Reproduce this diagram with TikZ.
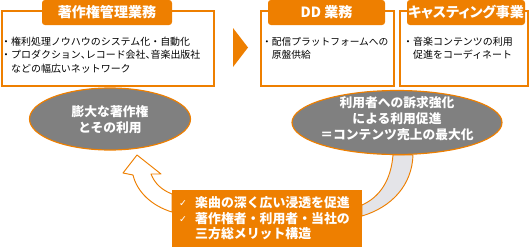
\documentclass[tikz,border=0pt]{standalone}
\usepackage{fontspec}
\setmainfont{Noto Sans CJK JP}
\newfontfamily\jpt{Noto Sans CJK JP}[RawFeature=+palt]
\newfontfamily\djv{DejaVu Sans}
\usetikzlibrary{shapes.geometric}
\definecolor{org}{HTML}{EE7F00}
\definecolor{ellg}{HTML}{808080}
\definecolor{bandg}{HTML}{E4E4E8}
\begin{document}
\begin{tikzpicture}[x=0.03cm,y=-0.03cm,
  frame/.style={draw=org,line width=1.3pt,minimum height={75*0.03cm},anchor=north west,inner sep=0pt},
  tabbox/.style={fill=org,rounded corners=2.5pt,text=white,minimum height={25*0.03cm},inner sep=0pt,font=\jpt\bfseries\fontsize{12}{12}\selectfont},
  body/.style={anchor=base west,inner sep=0pt,font=\fontsize{8.5}{10}\selectfont},
  oval/.style={ellipse,fill=ellg,draw=org,line width=1pt,inner sep=0pt},
  ovaltext/.style={text=white,align=center,font=\bfseries\fontsize{10.9}{13.6}\selectfont,inner sep=0pt},
  chk/.style={anchor=base,inner sep=0pt,text=white,font=\djv\fontsize{8}{8}\selectfont},
  btext/.style={anchor=base west,inner sep=0pt,text=white,font=\bfseries\fontsize{11}{11}\selectfont},
  band/.style={draw=org,line width=0.8pt,line join=round}
]
\useasboundingbox (0,0) rectangle (531,247);
% frames
\node[frame,minimum width={212*0.03cm}] (lbox) at (1,10) {};
\node[frame,minimum width={133*0.03cm}] (dbox) at (260,10) {};
\node[frame,minimum width={128*0.03cm}] (cbox) at (399,10) {};
% tabs
\node[tabbox,minimum width={130*0.03cm}] (ltab) at (107,12.5) {著作権管理業務};
\node[tabbox,minimum width={117*0.03cm}] (dtab) at (326.5,12.5) {DD 業務};
\node[tabbox,minimum width={118*0.03cm}] (ctab) at (466,12.5) {キャスティング事業};
% chevron
\fill[org] (233,28) -- (248,47.5) -- (233,67) -- cycle;
% body texts
\node[body] (l1) at (1,45.2) {・権利処理ノウハウのシステム化・自動化};
\node[body] (l2) at (1,58.7) {・プロダクション{\jpt 、}レコード会社{\jpt 、}音楽出版社};
\node[body] (l3) at (1,72.2) {\hphantom{・}などの幅広いネットワーク};
\node[body,font=\fontsize{8.3}{10}\selectfont] (d1) at (262,45.2) {・配信プラットフォームへの};
\node[body,font=\fontsize{8.3}{10}\selectfont] (d2) at (262,58.7) {\hphantom{・}原盤供給};
\node[body] (c1) at (403,45.2) {・音楽コンテンツの利用};
\node[body] (c2) at (403,58.7) {\hphantom{・}促進をコーディネート};
% ellipses
\node[oval,minimum width={161*0.03cm},minimum height={62*0.03cm}] (lell) at (110,119) {};
\node[ovaltext] (ltxt) at (110,120) {膨大な著作権\\とその利用};
% bands
\draw[band,fill=bandg] (393,155) .. controls (391,180) and (380,197) .. (362,205) -- (362,216) .. controls (392,207) and (412,185) .. (413,155) -- cycle;
\node[oval,minimum width={210*0.03cm},minimum height={64*0.03cm}] (rell) at (397,122.5) {};
\node[ovaltext] (rtxt) at (397,118.5) {利用者への訴求強化\\による利用促進\\＝コンテンツ売上の最大化};
\draw[band,fill=white] (137,155) -- (161,174) -- (151,174) .. controls (155,184) and (162,190) .. (172,194) -- (172,212) .. controls (152,206) and (137,192) .. (133,175) -- (123,173) -- cycle;
% bottom box
\node[fill=org,anchor=north west,minimum width={190*0.03cm},minimum height={57*0.03cm},inner sep=0pt] (bbox) at (172,190) {};
\node[chk] (k1) at (183,206) {✓};
\node[chk] (k2) at (183,222) {✓};
\node[btext] (b1) at (195,207) {楽曲の深く広い浸透を促進};
\node[btext] (b2) at (195,223) {著作権者・利用者・当社の};
\node[btext] (b3) at (195,238) {三方総メリット構造};
\end{tikzpicture}
\end{document}
